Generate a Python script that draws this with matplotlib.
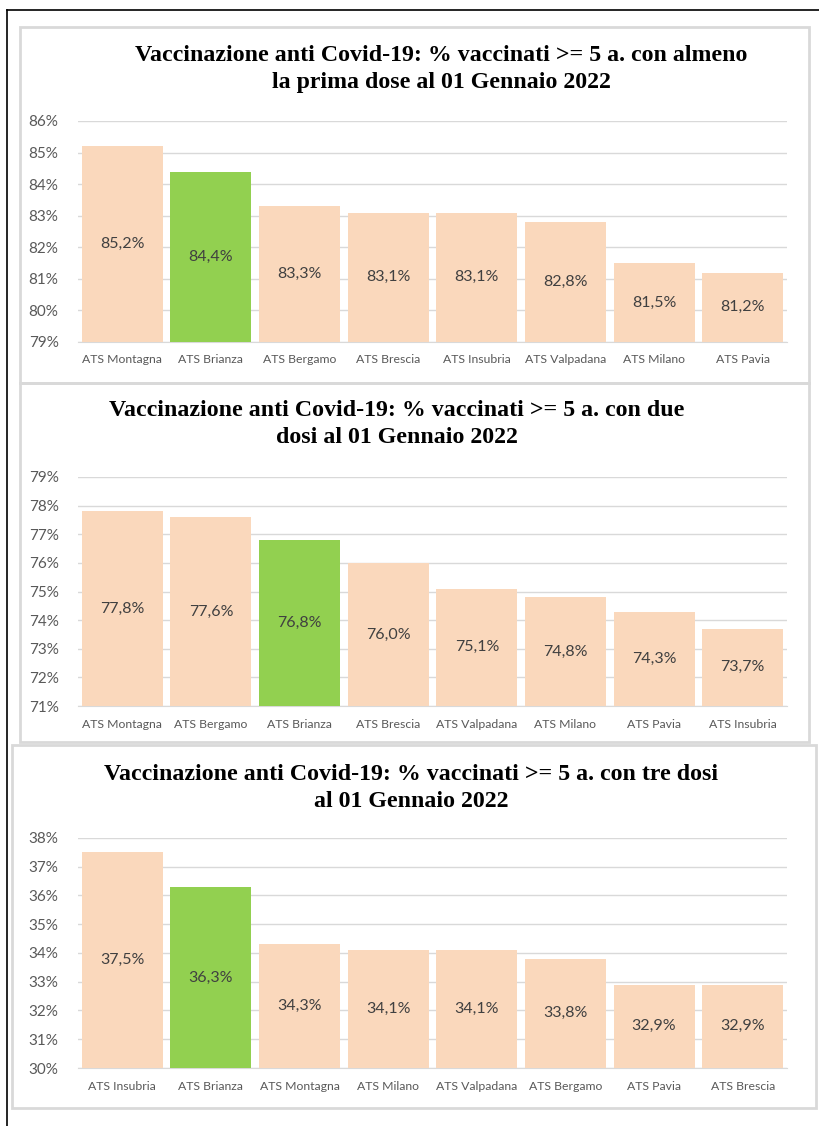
import matplotlib
matplotlib.use('Agg')
from matplotlib import pyplot as plt
from matplotlib.patches import Rectangle
from matplotlib.lines import Line2D
from matplotlib.ticker import FuncFormatter

W, H = 819, 1126

# dati
cat_prima = ['ATS Montagna', 'ATS Brianza', 'ATS Bergamo', 'ATS Brescia',
             'ATS Insubria', 'ATS Valpadana', 'ATS Milano', 'ATS Pavia']
val_prima = [85.2, 84.4, 83.3, 83.1, 83.1, 82.8, 81.5, 81.2]

cat_due = ['ATS Montagna', 'ATS Bergamo', 'ATS Brianza', 'ATS Brescia',
           'ATS Valpadana', 'ATS Milano', 'ATS Pavia', 'ATS Insubria']
val_due = [77.8, 77.6, 76.8, 76.0, 75.1, 74.8, 74.3, 73.7]

cat_tre = ['ATS Insubria', 'ATS Brianza', 'ATS Montagna', 'ATS Milano',
           'ATS Valpadana', 'ATS Bergamo', 'ATS Pavia', 'ATS Brescia']
val_tre = [37.5, 36.3, 34.3, 34.1, 34.1, 33.8, 32.9, 32.9]

titoli = [
    'Vaccinazione anti Covid-19: % vaccinati >= 5 a. con almeno\nla prima dose al 01 Gennaio 2022',
    'Vaccinazione anti Covid-19: % vaccinati >= 5 a. con due\ndosi al 01 Gennaio 2022',
    'Vaccinazione anti Covid-19: % vaccinati >= 5 a. con tre dosi\nal 01 Gennaio 2022',
]
yrange = [(79, 86), (71, 79), (30, 38)]

PEACH = '#FAD8BC'
GREEN = '#92D050'
GRID = '#D9D9D9'

fig = plt.figure(figsize=(W / 100, H / 100), dpi=100)


def fx(x):
    return x / W


def fy(y):
    return 1 - y / H


def box(x0, y0, x1, y1):
    fig.patches.append(Rectangle((fx(x0), fy(y1)), fx(x1) - fx(x0), fy(y0) - fy(y1),
                                 transform=fig.transFigure, fill=False,
                                 edgecolor=GRID, lw=2))


# cornice esterna
fig.lines.append(Line2D([fx(7), fx(819)], [fy(10), fy(10)], transform=fig.transFigure,
                        color='black', lw=1.2))
fig.lines.append(Line2D([fx(7), fx(7)], [fy(10), fy(1126)], transform=fig.transFigure,
                        color='black', lw=1.2))

box(20, 27, 809, 383)
box(20, 383, 809, 742)
box(12, 745, 816, 1108)

# (top, bottom) of plot area in pixels, title centre x, title y
layout = [(121, 342, 441, 69), (477, 706, 397, 424), (838, 1068, 411, 788)]
dati = [(cat_prima, val_prima), (cat_due, val_due), (cat_tre, val_tre)]

for (cats, vals), (top, bot, tx, ty), tit, (lo, hi) in zip(dati, layout, titoli, yrange):
    ax = fig.add_axes([fx(78), fy(bot), fx(787) - fx(78), fy(top) - fy(bot)])
    colors = [GREEN if c == 'ATS Brianza' else PEACH for c in cats]
    xs = range(len(cats))
    bars = ax.bar(xs, [v - lo for v in vals], bottom=lo, width=0.915, color=colors, zorder=2)
    for b, v in zip(bars, vals):
        ax.text(b.get_x() + b.get_width() / 2, (lo + v) / 2, f'{v:.1f}%'.replace('.', ','),
                ha='center', va='center', fontsize=11.5, color='#404040',
                family='Lato', zorder=3)
    ax.set_xlim(-0.5, len(cats) - 0.5)
    ax.set_ylim(lo, hi)
    ax.set_yticks(range(lo, hi + 1))
    ax.yaxis.set_major_formatter(FuncFormatter(lambda v, p: f'{v:.0f}%'))
    ax.set_xticks(list(xs))
    ax.set_xticklabels(cats)
    ax.grid(axis='y', color=GRID, lw=1, zorder=0)
    for s in ['top', 'right', 'left']:
        ax.spines[s].set_visible(False)
    ax.spines['bottom'].set_color(GRID)
    ax.spines['bottom'].set_zorder(1)
    ax.tick_params(length=0)
    ax.tick_params(axis='y', pad=14, labelsize=11, labelcolor='#595959')
    ax.tick_params(axis='x', pad=9, labelsize=8.8, labelcolor='#595959')
    for lab in ax.get_xticklabels() + ax.get_yticklabels():
        lab.set_family('Lato')
    fig.text(fx(tx), fy(ty), tit, ha='center', va='center', fontsize=17.2,
             fontweight='bold', family='Liberation Serif', linespacing=1.35)

fig.savefig('out.png', dpi=100)
